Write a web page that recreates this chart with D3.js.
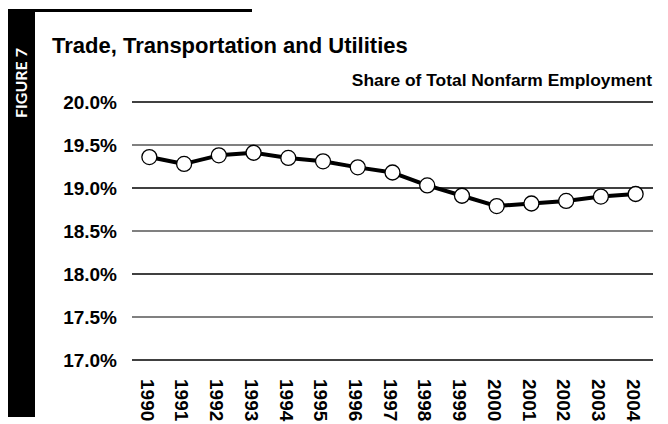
<!DOCTYPE html>
<html><head><meta charset="utf-8">
<script src="https://cdn.jsdelivr.net/npm/d3@7"></script>
<style>
html,body{margin:0;padding:0;background:#fff;}
svg{display:block;}
text{font-family:Arial,"Liberation Sans",sans-serif;font-weight:bold;fill:#000;}
</style></head>
<body>
<svg id="chart" width="668" height="424"></svg>
<script>
const years = ["1990","1991","1992","1993","1994","1995","1996","1997","1998","1999","2000","2001","2002","2003","2004"];
const shareValues = [19.36,19.28,19.38,19.41,19.35,19.31,19.24,19.18,19.03,18.91,18.79,18.82,18.85,18.90,18.93];
const yTicks = [17.0,17.5,18.0,18.5,19.0,19.5,20.0];
const titleText = "Trade, Transportation and Utilities";
const subtitleText = "Share of Total Nonfarm Employment";
const figureLabel = "FIGURE 7";

const svg = d3.select("#chart");
const margin = {left:132, right:15, top:102, bottom:64};
const W = 668, H = 424;

// decorative frame
svg.append("rect").attr("x",8).attr("y",9).attr("width",27).attr("height",408).attr("fill","#000");
svg.append("rect").attr("x",8).attr("y",9).attr("width",244).attr("height",3).attr("fill","#000");
svg.append("text").attr("transform","translate(27,83) rotate(-90)")
  .attr("text-anchor","middle")
  .style("font-family","Lato,'Open Sans',sans-serif").style("font-size","16px").style("font-weight","bold")
  .style("fill","#fff").text(figureLabel);

svg.append("text").attr("x",52).attr("y",53).style("font-size","22px").text(titleText);
svg.append("text").attr("x",652).attr("y",86).attr("text-anchor","end").style("font-size","17.4px").text(subtitleText);

const x = d3.scalePoint().domain(years).range([margin.left, W - margin.right]).padding(0.5);
const y = d3.scaleLinear().domain([17,20]).range([360,102]);

// grid
const grid = svg.append("g");
yTicks.forEach((t,i)=>{
  grid.append("line").attr("x1",margin.left).attr("x2",W - margin.right)
    .attr("y1",y(t)).attr("y2",y(t))
    .attr("stroke", i%2===0 ? "#000" : "#808080")
    .attr("stroke-width", i%2===0 ? 1.5 : 2);
});

// y axis labels
const yAxis = d3.axisLeft(y).tickValues(yTicks).tickSize(0).tickPadding(0)
  .tickFormat(d=>d3.format(".1f")(d)+"%");
const ya = svg.append("g").attr("transform","translate(117,0)").call(yAxis);
ya.select(".domain").remove();
ya.selectAll("text").style("font-size","19px").style("font-family","Arial,'Liberation Sans',sans-serif").style("font-weight","bold").attr("dy","0.35em");

// x axis labels
const xAxis = d3.axisBottom(x).tickSize(0).tickPadding(0);
const xa = svg.append("g").attr("transform","translate(0,379)").call(xAxis);
xa.select(".domain").remove();
xa.selectAll("text").style("font-size","19px").style("font-family","Arial,'Liberation Sans',sans-serif").style("font-weight","bold")
  .attr("x",0).attr("y",0).attr("dx","0").attr("dy","0.33em")
  .attr("text-anchor","start")
  .attr("transform","translate(-3,0) rotate(90)");

// line
const line = d3.line().x((d,i)=>x(years[i])).y(d=>y(d));
svg.append("path").datum(shareValues).attr("d",line)
  .attr("fill","none").attr("stroke","#000").attr("stroke-width",4).attr("stroke-linejoin","round");

svg.append("g").selectAll("circle").data(shareValues).join("circle")
  .attr("cx",(d,i)=>x(years[i])).attr("cy",d=>y(d)).attr("r",7.5)
  .attr("fill","#fff").attr("stroke","#000").attr("stroke-width",1.3);
</script>
</body></html>
